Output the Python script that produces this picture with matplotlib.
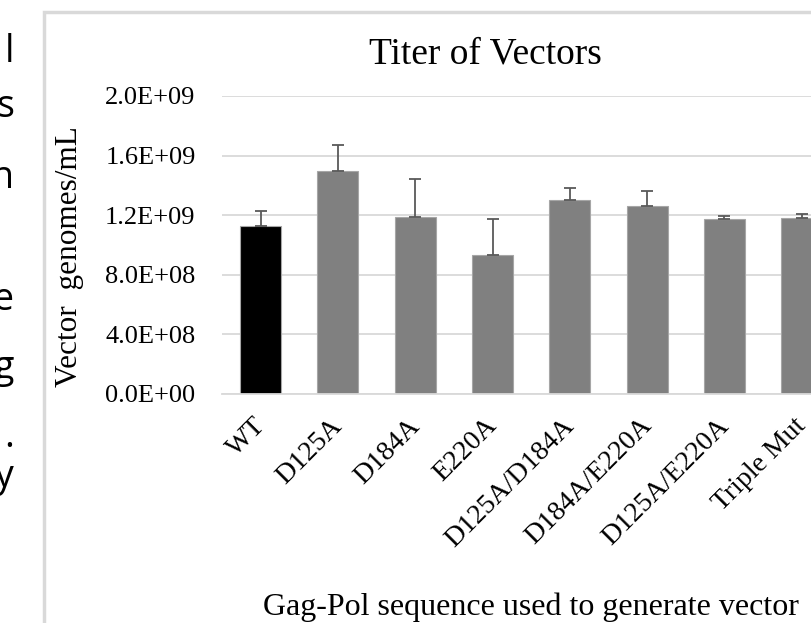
import numpy as np
import matplotlib
matplotlib.use("Agg")
import matplotlib.pyplot as plt
from matplotlib.patches import Rectangle
from matplotlib.transforms import ScaledTranslation

# data
labels = ["WT", "D125A", "D184A", "E220A", "D125A/D184A",
          "D184A/E220A", "D125A/E220A", "Triple Mut"]
titer = [1.13e9, 1.50e9, 1.19e9, 0.93e9, 1.30e9, 1.26e9, 1.175e9, 1.18e9]
err_up = [0.095e9, 0.17e9, 0.25e9, 0.245e9, 0.085e9, 0.10e9, 0.02e9, 0.03e9]
yticks = [0, 4e8, 8e8, 1.2e9, 1.6e9, 2.0e9]
ytick_labels = ["0.0E+00", "4.0E+08", "8.0E+08", "1.2E+09", "1.6E+09", "2.0E+09"]
# cut-off slide text at the left edge
side_letters = ["l", "s", "n", "e", "g", ".", "y"]
side_baselines = [62, 117, 188, 310, 378, 447, 487]   # pixel rows

W, H = 812, 623
serif = "Liberation Serif"

fig = plt.figure(figsize=(W / 100, H / 100), dpi=100)
# axes: left edge at x=222px, 0 at y=394px, 2E9 at y=96px, runs off right edge
ax = fig.add_axes([222 / W, 1 - 394 / H, 1 - 222 / W, (394 - 96) / H])

x = np.arange(len(labels))
colors = ["black"] + ["#808080"] * (len(labels) - 1)
ax.bar(x, titer, width=0.53, color=colors, edgecolor="#a6a6a6", linewidth=0.8, zorder=2)
ax.errorbar(x, titer, yerr=[np.zeros(len(x)), err_up], fmt="none",
            ecolor="#595959", elinewidth=1.3, capsize=4, capthick=1.3, zorder=3)

ax.set_xlim(-0.5, (W - 222) / 77.3 - 0.5)
ax.set_ylim(0, 2.0e9)
ax.set_yticks(yticks)
ax.set_yticklabels(ytick_labels, fontfamily=serif, fontsize=19)
ax.set_xticks(x)
ax.set_xticklabels(labels, fontfamily=serif, fontsize=20, rotation=45,
                   ha="right", va="top", rotation_mode="anchor")
ax.tick_params(axis="y", length=0, pad=19)
ax.tick_params(axis="x", length=0, pad=14)
shift = ScaledTranslation(-8 / 100, 0, fig.dpi_scale_trans)
for lab in ax.get_xticklabels():
    lab.set_transform(lab.get_transform() + shift)
ax.grid(axis="y", color="#d9d9d9", linewidth=1.3, zorder=0)
ax.set_axisbelow(True)
for s in ["top", "right", "left"]:
    ax.spines[s].set_visible(False)
ax.spines["bottom"].set_color("#d9d9d9")
ax.spines["bottom"].set_linewidth(1.3)

fig.text(485 / W, 1 - 63 / H, "Titer of Vectors", fontfamily=serif, fontsize=27,
         ha="center", va="baseline")
fig.text(70 / W, 1 - 257 / H, "Vector  genomes/mL", fontfamily=serif, fontsize=22.5,
         rotation=90, ha="center", va="center")
fig.text(531 / W, 1 - 615 / H, "Gag-Pol sequence used to generate vector",
         fontfamily=serif, fontsize=23, ha="center", va="baseline")

# chart frame (light grey), cut by the image edges
fig.patches.append(Rectangle((44 / W, -0.1), 2, 1.1 - 12 / H,
                             transform=fig.transFigure, fill=False,
                             edgecolor="#d9d9d9", linewidth=2.5))

for ch, yb in zip(side_letters, side_baselines):
    fig.text(14 / W, 1 - yb / H, ch, fontfamily="Open Sans", fontsize=27,
             ha="right", va="baseline")

fig.savefig("out.png", dpi=100)
